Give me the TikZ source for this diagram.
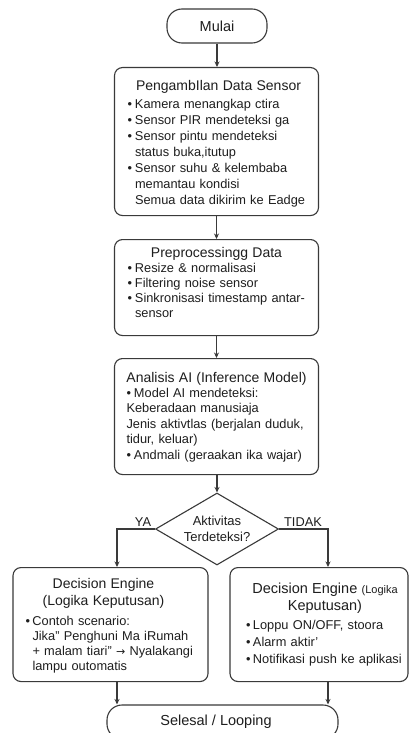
\documentclass[tikz,border=0pt]{standalone}
\usepackage{fontspec}
\setmainfont{Liberation Sans}
\newfontfamily\dejavu{DejaVu Sans}
\usetikzlibrary{arrows.meta,shapes.geometric}
\definecolor{ln}{HTML}{3A3A3A}
\definecolor{tx}{HTML}{1E1E1E}
\newlength\bw
\setlength\bw{7.5pt}
\newcommand\hfont{\fontsize{14}{16}\selectfont}
\newcommand\bl[1]{\mbox{\makebox[\bw][l]{•}#1}}
\newcommand\cl[1]{\mbox{\hspace*{\bw}#1}}
\newcommand\nl[1]{\mbox{#1}}
\newcommand\hd[2][0pt]{\makebox[\linewidth][c]{\hspace*{#1}\hfont #2}}
\tikzset{
  box/.style={draw=ln, line width=1.1pt, rounded corners=8pt, anchor=north,
    inner ysep=0pt, align=left, text=tx},
  term/.style={draw=ln, line width=1.1pt, rounded corners=15pt, inner sep=0pt,
    text=tx, font=\fontsize{14.5}{17}\selectfont},
  dec/.style={diamond, draw=ln, line width=1.1pt, aspect=1.7, inner sep=0pt,
    minimum width=123pt, minimum height=72pt, align=center, text=tx,
    font=\fontsize{13}{16}\selectfont},
  arr/.style={draw=ln, line width=1.1pt, -{Stealth[length=5.5pt,width=5pt]}},
  lab/.style={text=tx, font=\fontsize{12.8}{15}\selectfont, inner sep=0pt}
}
\begin{document}
\begin{tikzpicture}[x=1pt,y=-1pt]
\useasboundingbox (0,0) rectangle (410,733);
\fill[white] (0,0) rectangle (410,733);

\node[term, minimum width=100pt, minimum height=34pt] (mulai) at (217,26) {Mulai};

\node[box, font=\fontsize{12.8}{16}\selectfont, text width=178pt, inner xsep=13pt,
  text height=23pt, text depth=125pt] (s1) at (216.5,67)
  {\hd[4pt]{PengambIlan Data Sensor}\\[1.5pt]
   \bl{Kamera menangkap ctira}\\
   \bl{Sensor PIR mendeteksi ga}\\
   \bl{Sensor pintu mendeteksi}\\
   \cl{status buka,itutup}\\
   \bl{Sensor suhu \& kelembaba}\\
   \cl{memantau kondisi}\\
   \cl{Semua data dikirim ke Eadge}};

\node[box, font=\fontsize{12.8}{15}\selectfont, text width=178pt, inner xsep=13pt,
  text height=18pt, text depth=78pt] (s2) at (216.5,239)
  {\hd{Preprocessingg Data}\\[-0.5pt]
   \bl{Resize \& normalisasi}\\
   \bl{Filtering noise sensor}\\
   \bl{Sinkronisasi timestamp antar-}\\
   \cl{sensor}};

\node[box, font=\fontsize{12.8}{15.4}\selectfont, text width=180pt, inner xsep=12pt,
  text height=24pt, text depth=92pt] (s3) at (216.5,358)
  {\hd{Analisis AI (Inference Model)}\\[-0.4pt]
   \bl{Model AI mendeteksi:}\\
   \nl{Keberadaan manusiaja}\\
   \nl{Jenis aktivtlas (berjalan duduk,}\\
   \nl{tidur, keluar)}\\
   \bl{Andmali (geraakan ika wajar)}};

\node[dec] (dec) at (217,529) {Aktivitas\\Terdeteksi?};

\coordinate (ya) at (117,529);
\coordinate (td) at (328,529);
\node[lab] (yal) at (143,522) {YA};
\node[lab] (tdl) at (303,522) {TIDAK};

\node[box, font=\fontsize{12.8}{15}\selectfont, text width=170pt, inner xsep=12.5pt,
  text height=21pt, text depth=93pt] (d1) at (110.5,567)
  {\setlength\bw{7pt}\hd[-14pt]{Decision Engine}\\[2pt]
   \hd[-14pt]{(Logika Keputusan)}\\[4.5pt]
   \bl{Contoh scenario:}\\
   \cl{Jika” Penghuni Ma iRumah}\\
   \cl{+ malam tiari” {\dejavu\fontsize{11}{12}\selectfont →} Nyalakangi}\\
   \cl{lampu outomatis}};

\node[box, font=\fontsize{12.8}{17}\selectfont, text width=146pt, inner xsep=16pt,
  text height=26pt, text depth=88pt] (d2) at (319,567)
  {\setlength\bw{7pt}\hd[12pt]{\fontsize{14.5}{16}\selectfont Decision Engine {\fontsize{11}{12}\selectfont(Logika}}\\
   \hd[12pt]{\fontsize{14.5}{16}\selectfont Keputusan)}\\[1.5pt]
   \bl{Loppu ON/OFF, stoora}\\
   \bl{Alarm aktir’}\\
   \bl{Notifikasi push ke aplikasi}};

\node[term, minimum width=231pt, minimum height=34pt] (end) at (222.5,722)
  {\hspace*{-13pt}Selesal / Looping};

\draw[arr] (mulai.south) -- (mulai.south |- s1.north);
\draw[arr] (s1.south) -- (s2.north);
\draw[arr] (s2.south) -- (s3.north);
\draw[arr] (dec.north |- s3.south) -- (dec.north);
\draw[arr] (dec.west) -- (ya) -- (ya |- d1.north);
\draw[arr] (dec.east) -- (td) -- (td |- d2.north);
\draw[arr] (ya |- d1.south) -- (ya |- end.north);
\draw[arr] (td |- d2.south) -- (td |- end.north);
\end{tikzpicture}
\end{document}
